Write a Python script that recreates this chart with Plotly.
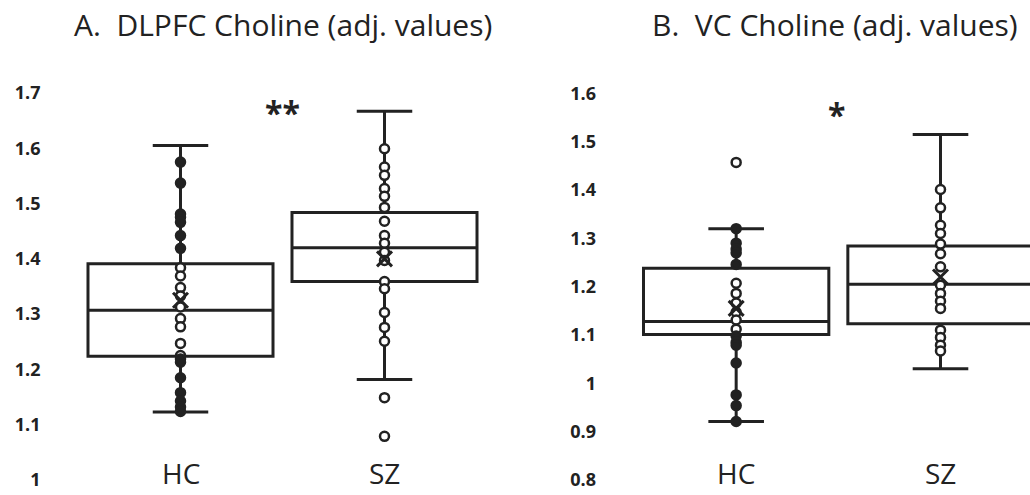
import plotly.graph_objects as go

# ---------------- data ----------------
groups = ["HC", "SZ"]

# Panel A: DLPFC choline
a_hc_points = [1.575, 1.537, 1.481, 1.475, 1.466, 1.442, 1.419, 1.384, 1.369, 1.348,
               1.333, 1.313, 1.292, 1.277, 1.247, 1.225, 1.219, 1.213, 1.185, 1.158,
               1.143, 1.132, 1.124]
a_sz_points = [1.599, 1.566, 1.551, 1.527, 1.513, 1.493, 1.468, 1.442, 1.428, 1.412,
               1.397, 1.359, 1.346, 1.303, 1.276, 1.251, 1.149, 1.079]
a_q1 = [1.224, 1.359]
a_median = [1.307, 1.420]
a_q3 = [1.391, 1.484]
a_lower = [1.123, 1.182]
a_upper = [1.605, 1.667]
a_mean = [1.325, 1.400]

# Panel B: VC choline
b_hc_points = [1.457, 1.320, 1.290, 1.278, 1.270, 1.246, 1.207, 1.186, 1.166, 1.147,
               1.131, 1.112, 1.098, 1.085, 1.079, 1.042, 0.976, 0.954, 0.921]
b_sz_points = [1.401, 1.363, 1.327, 1.310, 1.288, 1.268, 1.241, 1.203, 1.186, 1.170,
               1.155, 1.110, 1.095, 1.079, 1.067]
b_q1 = [1.101, 1.123]
b_median = [1.128, 1.205]
b_q3 = [1.238, 1.284]
b_lower = [0.921, 1.030]
b_upper = [1.320, 1.515]
b_mean = [1.155, 1.220]

a_ticks = [1, 1.1, 1.2, 1.3, 1.4, 1.5, 1.6, 1.7]
a_ticktext = ["1", "1.1", "1.2", "1.3", "1.4", "1.5", "1.6", "1.7"]
b_ticks = [0.8, 0.9, 1, 1.1, 1.2, 1.3, 1.4, 1.5, 1.6]
b_ticktext = ["0.8", "0.9", "1", "1.1", "1.2", "1.3", "1.4", "1.5", "1.6"]

titles = ["A.  DLPFC Choline (adj. values)", "B.  VC Choline (adj. values)"]
sig_marks = ["**", "*"]

# ---------------- figure ----------------
INK = "#222222"
FONT = "Open Sans"
W, H = 1030, 495

fig = go.Figure()


def add_panel(xa, ya, q1, med, q3, lo, hi, mean, hc_pts, sz_pts):
    fig.add_trace(go.Box(
        x=groups, q1=q1, median=med, q3=q3, lowerfence=lo, upperfence=hi,
        xaxis=xa, yaxis=ya, width=0.907, whiskerwidth=0.3,
        fillcolor="white", line=dict(color=INK, width=3),
        boxpoints=False, showlegend=False, hoverinfo="skip",
    ))
    # HC points lying on the whiskers (outside the box, inside the fences) drawn filled
    hc_fill = [INK if ((v < q1[0] or v > q3[0]) and lo[0] <= v <= hi[0]) else "white"
               for v in hc_pts]
    fig.add_trace(go.Scatter(
        x=[groups[0]] * len(hc_pts), y=hc_pts, mode="markers",
        xaxis=xa, yaxis=ya, showlegend=False,
        marker=dict(symbol="circle", size=9, color=hc_fill,
                    line=dict(color=INK, width=2.5)),
    ))
    fig.add_trace(go.Scatter(
        x=[groups[1]] * len(sz_pts), y=sz_pts, mode="markers",
        xaxis=xa, yaxis=ya, showlegend=False,
        marker=dict(symbol="circle", size=9, color="white",
                    line=dict(color=INK, width=2.5)),
    ))
    fig.add_trace(go.Scatter(
        x=groups, y=mean, mode="markers", xaxis=xa, yaxis=ya, showlegend=False,
        marker=dict(symbol="x-thin", size=15, color=INK,
                    line=dict(color=INK, width=3)),
    ))


add_panel("x", "y", a_q1, a_median, a_q3, a_lower, a_upper, a_mean, a_hc_points, a_sz_points)
add_panel("x2", "y2", b_q1, b_median, b_q3, b_lower, b_upper, b_mean, b_hc_points, b_sz_points)

top_px = 60
ydom = [0, (H - top_px) / H]

# pixel scales
a_ppu = 554.0
b_ppu = 483.4
a_range = [1 - 15 / a_ppu, 1.7 + (93 - top_px) / a_ppu]
b_range = [0.8 - 15 / b_ppu, 1.6 + (93.3 - top_px) / b_ppu]

xa_common = dict(type="category", categoryorder="array", categoryarray=groups,
                 showticklabels=False, showgrid=False, zeroline=False,
                 showline=False, ticks="", fixedrange=True)
ya_common = dict(showgrid=False, zeroline=False, showline=False, ticks="",
                 tickfont=dict(family=FONT, size=18, color=INK, weight="bold"),
                 ticklabelstandoff=37)

fig.update_layout(
    width=W, height=H,
    margin=dict(l=0, r=0, t=0, b=0),
    paper_bgcolor="white", plot_bgcolor="white",
    showlegend=False,
    xaxis=dict(domain=[78.5 / W, 486.5 / W], range=[-0.5, 1.5], **xa_common),
    yaxis=dict(domain=ydom, range=a_range, tickvals=a_ticks, ticktext=a_ticktext, **ya_common),
    xaxis2=dict(domain=[634 / W, 1.0], range=[-0.5, 1.438], anchor="y2", **xa_common),
    yaxis2=dict(domain=ydom, range=b_range, tickvals=b_ticks, ticktext=b_ticktext,
                anchor="x2", **ya_common),
)

ann = []
# category labels, at the level of the lowest tick
for xr, yr, ybase in [("x", "y", a_ticks[0]), ("x2", "y2", b_ticks[0])]:
    for g in groups:
        ann.append(dict(x=g, y=ybase, xref=xr, yref=yr, text=g, showarrow=False,
                        font=dict(family=FONT, size=28, color=INK),
                        xanchor="center", yanchor="bottom", yshift=-14))
# significance marks
ann.append(dict(x=0.5, y=1.665, xref="x", yref="y", text=sig_marks[0], showarrow=False,
                font=dict(family=FONT, size=32, color=INK, weight="bold"),
                xanchor="center", yanchor="middle"))
ann.append(dict(x=0.49, y=1.557, xref="x2", yref="y2", text=sig_marks[1], showarrow=False,
                font=dict(family=FONT, size=32, color=INK, weight="bold"),
                xanchor="center", yanchor="middle"))
# titles
ann.append(dict(x=283 / W, y=1 - 25 / H, xref="paper", yref="paper", text=titles[0],
                showarrow=False, font=dict(family=FONT, size=30, color=INK),
                xanchor="center", yanchor="middle"))
ann.append(dict(x=835 / W, y=1 - 25 / H, xref="paper", yref="paper", text=titles[1],
                showarrow=False, font=dict(family=FONT, size=30, color=INK),
                xanchor="center", yanchor="middle"))
fig.update_layout(annotations=ann)

fig.write_html("out.html", config={"displayModeBar": False})

# remove the browser's default page margin so the figure sits at the window origin
with open("out.html", "r", encoding="utf-8") as f:
    html = f.read()
html = html.replace("<body>", '<body style="margin:0;overflow:hidden">', 1)
with open("out.html", "w", encoding="utf-8") as f:
    f.write(html)
